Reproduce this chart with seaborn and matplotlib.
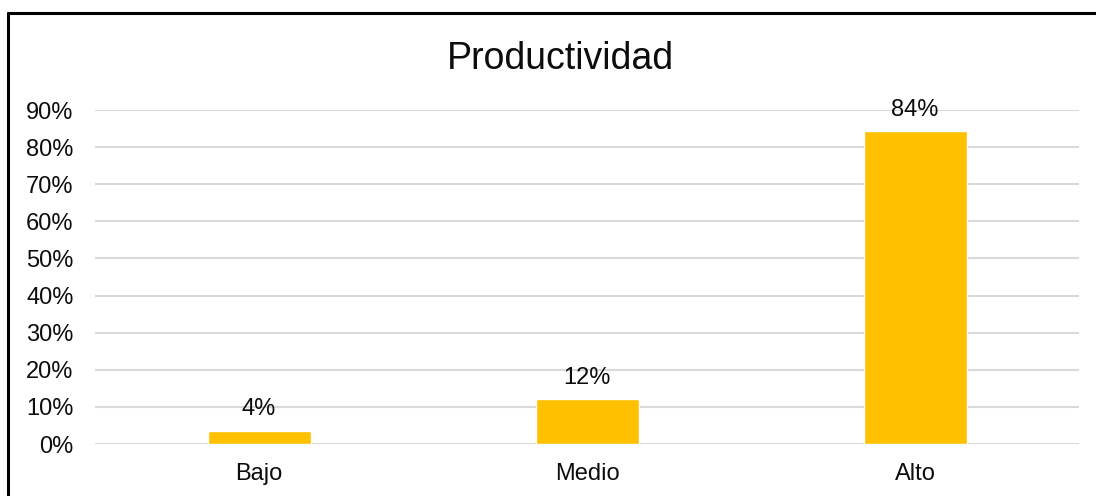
import matplotlib
matplotlib.use('Agg')
import matplotlib.pyplot as plt
import seaborn as sns
import pandas as pd
from matplotlib.lines import Line2D
from matplotlib.ticker import PercentFormatter

# datos del gráfico
niveles = ['Bajo', 'Medio', 'Alto']
porcentajes = [0.036, 0.12, 0.843]
etiquetas = ['4%', '12%', '84%']
yticks = [0, 0.1, 0.2, 0.3, 0.4, 0.5, 0.6, 0.7, 0.8, 0.9]

df = pd.DataFrame({'nivel': niveles, 'valor': porcentajes})

sns.set_theme(style='white')
plt.rcParams['font.family'] = ['Liberation Sans', 'DejaVu Sans']

fig = plt.figure(figsize=(10.96, 4.96), dpi=100)
ax = fig.add_axes([0.0867, 0.1048, 0.8978, 0.6734])

sns.barplot(data=df, x='nivel', y='valor', color='#FFC000', saturation=1,
            width=0.314, ax=ax, zorder=3)

ax.bar_label(ax.containers[0], labels=etiquetas, padding=7.5, fontsize=17, color='#0d0d0d')

ax.set_ylim(0, 0.9)
ax.set_yticks(yticks)
ax.yaxis.set_major_formatter(PercentFormatter(1.0, decimals=0))
ax.set_xlim(-0.5, 2.5)
ax.grid(axis='y', color='#d9d9d9', linewidth=1.5, zorder=0)
ax.set_axisbelow(True)
for s in ax.spines.values():
    s.set_visible(False)
ax.tick_params(axis='both', length=0, labelsize=17, colors='#0d0d0d')
ax.tick_params(axis='y', pad=15.5)
ax.tick_params(axis='x', pad=14)
ax.set_xlabel('')
ax.set_ylabel('')

fig.text(0.511, 1 - 59 / 496, 'Productividad', ha='center', va='center',
         fontsize=27, color='#0d0d0d')

# marco (solo se ven los bordes superior e izquierdo)
fig.add_artist(Line2D([0.0073, 1.0], [0.974, 0.974], color='black', linewidth=2.2))
fig.add_artist(Line2D([0.0073, 0.0073], [0.0, 0.974], color='black', linewidth=2.2))

fig.savefig('out.png', dpi=100, facecolor='white')
